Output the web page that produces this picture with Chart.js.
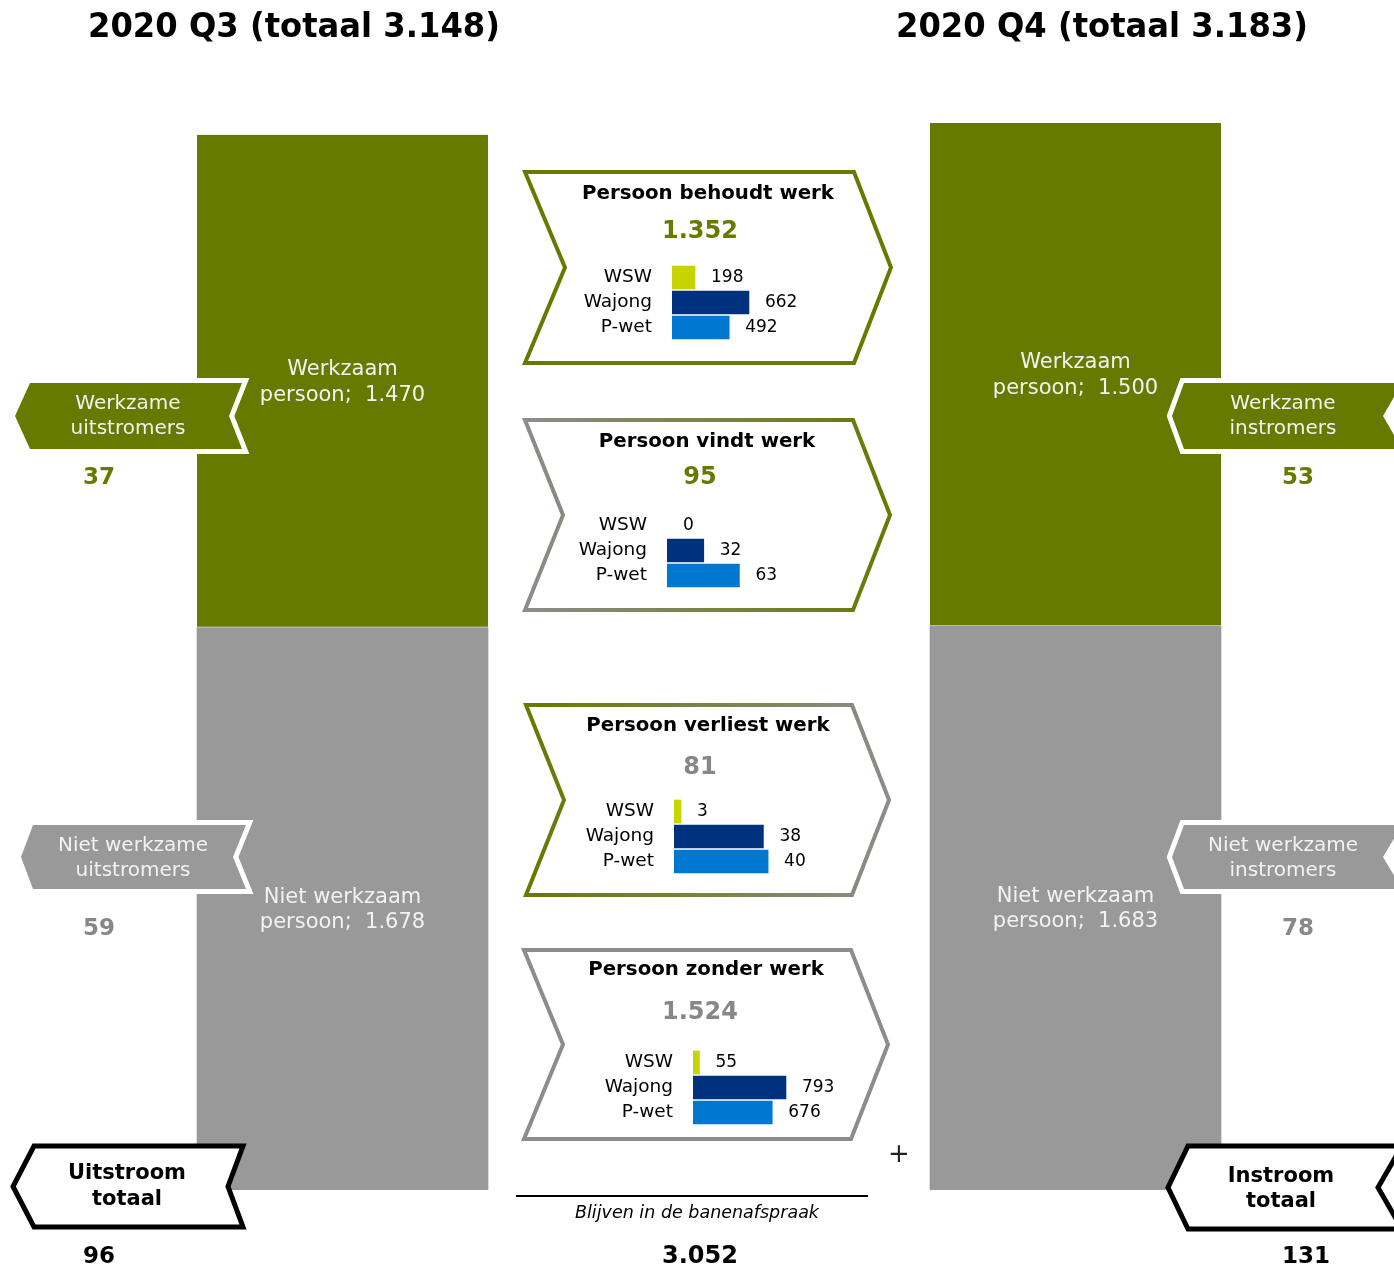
<!DOCTYPE html>
<html>
<head>
<meta charset="utf-8">
<script src="https://cdn.jsdelivr.net/npm/chart.js@4"></script>
<title>Banenafspraak 2020 Q3 - 2020 Q4</title>
<style>
	body { margin: 0; background: #ffffff; }
	#wrap { position: relative; width: 1394px; height: 1267px; overflow: hidden; }
	#wrap canvas { position: absolute; }
</style>
</head>
<body>
<div id="wrap">
	<canvas id="main" width="1394" height="1267" style="left:0;top:0"></canvas>
	<canvas id="mini0" width="280" height="75" style="left:552px;top:265px"></canvas>
	<canvas id="mini1" width="280" height="75" style="left:547px;top:513px"></canvas>
	<canvas id="mini2" width="280" height="75" style="left:554px;top:799px"></canvas>
	<canvas id="mini3" width="280" height="75" style="left:573px;top:1050px"></canvas>
</div>
<script>
// kwartalen (middelste kolom = stromen)
var categories = ['2020 Q3', 'Stromen', '2020 Q4'];
var werkzaam = [1470, null, 1500];
var nietWerkzaam = [1678, null, 1683];
var totals = [3148, 3183];

// stromen tussen de kwartalen
var flowTitles = ['Persoon behoudt werk', 'Persoon vindt werk', 'Persoon verliest werk', 'Persoon zonder werk'];
var flowTotals = [1352, 95, 81, 1524];
var regelingen = ['WSW', 'Wajong', 'P-wet'];
var flowWsw = [198, 0, 3, 55];
var flowWajong = [662, 32, 38, 793];
var flowPwet = [492, 63, 40, 676];

// uitstroom / instroom: werkzaam, niet werkzaam, totaal
var uitstroom = [37, 59, 96];
var instroom = [53, 78, 131];
var blijven = 3052;

var GREEN = '#677a00';
var GRAY = '#999999';
var GRAY_TXT = '#878787';
var LIGHT = '#f2f2f2';
var F = '"DejaVu Sans", Verdana, sans-serif';
var miniColors = ['#c8d400', '#00317f', '#0077d0'];
var miniMax = [860, 87, 42.5, 853];

function nl(n) {
	return String(n).replace(/\B(?=(\d{3})+(?!\d))/g, '.');
}

function txt(ctx, s, x, y, font, color, align, maxW) {
	ctx.font = font;
	ctx.fillStyle = color;
	ctx.textAlign = align || 'center';
	ctx.textBaseline = 'middle';
	if (maxW) ctx.fillText(s, x, y, maxW);
	else ctx.fillText(s, x, y);
}

// pijl naar links met inkeping rechts
function leftArrow(ctx, tip, corner, right, notch, top, bot) {
	var mid = (top + bot) / 2;
	ctx.beginPath();
	ctx.moveTo(corner, top);
	ctx.lineTo(right, top);
	ctx.lineTo(notch, mid);
	ctx.lineTo(right, bot);
	ctx.lineTo(corner, bot);
	ctx.lineTo(tip, mid);
	ctx.closePath();
}

// pijl naar rechts met inkeping links
function flowBox(ctx, b) {
	var mid = (b.top + b.bot) / 2;
	ctx.beginPath();
	ctx.moveTo(b.left, b.top);
	ctx.lineTo(b.right, b.top);
	ctx.lineTo(b.tip, mid);
	ctx.lineTo(b.right, b.bot);
	ctx.lineTo(b.left, b.bot);
	ctx.lineTo(b.notch, mid);
	ctx.closePath();
}

var boxes = [
	{left: 525, right: 854, tip: 891, notch: 565, top: 172, bot: 363, from: GREEN, to: GREEN, hx: 708, hy: 194, ny: 232, nc: GREEN},
	{left: 525, right: 853, tip: 890, notch: 563, top: 420, bot: 610, from: '#8c8c8c', to: GREEN, hx: 707, hy: 442, ny: 478, nc: GREEN},
	{left: 526, right: 852, tip: 889, notch: 564, top: 705, bot: 895, from: GREEN, to: '#8c8c8c', hx: 708, hy: 726, ny: 768, nc: GRAY_TXT},
	{left: 524, right: 851, tip: 888, notch: 563, top: 950, bot: 1139, from: '#8c8c8c', to: '#8c8c8c', hx: 706, hy: 970, ny: 1013, nc: GRAY_TXT}
];

var decor = {
	id: 'decor',
	afterDatasetsDraw: function (chart) {
		var ctx = chart.ctx;
		var i;
		ctx.save();

		// titels
		txt(ctx, categories[0] + ' (totaal ' + nl(totals[0]) + ')', 294, 28, 'bold 34px ' + F, '#000', 'center', 412);
		txt(ctx, categories[2] + ' (totaal ' + nl(totals[1]) + ')', 1102, 28, 'bold 34px ' + F, '#000', 'center', 412);

		// labels in de staven
		var gray = chart.getDatasetMeta(0).data;
		var green = chart.getDatasetMeta(1).data;
		[0, 2].forEach(function (j) {
			var g = green[j], n = gray[j];
			var gy = (g.y + g.base) / 2, ny = (n.y + n.base) / 2;
			txt(ctx, 'Werkzaam', g.x, gy - 12, '21px ' + F, LIGHT);
			txt(ctx, 'persoon;  ' + nl(werkzaam[j]), g.x, gy + 14, '21px ' + F, LIGHT);
			txt(ctx, 'Niet werkzaam', n.x, ny - 11, '21px ' + F, LIGHT);
			txt(ctx, 'persoon;  ' + nl(nietWerkzaam[j]), n.x, ny + 14, '21px ' + F, LIGHT);
		});

		// uitstromers links
		ctx.lineJoin = 'miter';
		leftArrow(ctx, 15, 30, 242, 229, 383, 449);
		ctx.strokeStyle = '#fff'; ctx.lineWidth = 10; ctx.stroke();
		ctx.fillStyle = GREEN; ctx.fill();
		txt(ctx, 'Werkzame', 128, 404, '20px ' + F, LIGHT);
		txt(ctx, 'uitstromers', 128, 429, '20px ' + F, LIGHT);
		txt(ctx, nl(uitstroom[0]), 99, 478, 'bold 23px ' + F, GREEN);

		leftArrow(ctx, 21, 33, 246, 233, 825, 889);
		ctx.strokeStyle = '#fff'; ctx.lineWidth = 10; ctx.stroke();
		ctx.fillStyle = GRAY; ctx.fill();
		txt(ctx, 'Niet werkzame', 133, 846, '20px ' + F, LIGHT);
		txt(ctx, 'uitstromers', 133, 871, '20px ' + F, LIGHT);
		txt(ctx, nl(uitstroom[1]), 99, 929, 'bold 23px ' + F, GRAY_TXT);

		leftArrow(ctx, 13, 34, 243, 228, 1146, 1227);
		ctx.fillStyle = '#fff'; ctx.fill();
		ctx.strokeStyle = '#000'; ctx.lineWidth = 5; ctx.stroke();
		txt(ctx, 'Uitstroom', 127, 1174, 'bold 21px ' + F, '#000');
		txt(ctx, 'totaal', 127, 1200, 'bold 21px ' + F, '#000');
		txt(ctx, nl(uitstroom[2]), 99, 1257, 'bold 23px ' + F, '#000');

		// instromers rechts
		leftArrow(ctx, 1172, 1184, 1402, 1383, 383, 449);
		ctx.strokeStyle = '#fff'; ctx.lineWidth = 10; ctx.stroke();
		ctx.fillStyle = GREEN; ctx.fill();
		txt(ctx, 'Werkzame', 1283, 404, '20px ' + F, LIGHT);
		txt(ctx, 'instromers', 1283, 429, '20px ' + F, LIGHT);
		txt(ctx, nl(instroom[0]), 1298, 478, 'bold 23px ' + F, GREEN);

		leftArrow(ctx, 1172, 1184, 1402, 1383, 825, 889);
		ctx.strokeStyle = '#fff'; ctx.lineWidth = 10; ctx.stroke();
		ctx.fillStyle = GRAY; ctx.fill();
		txt(ctx, 'Niet werkzame', 1283, 846, '20px ' + F, LIGHT);
		txt(ctx, 'instromers', 1283, 871, '20px ' + F, LIGHT);
		txt(ctx, nl(instroom[1]), 1298, 929, 'bold 23px ' + F, GRAY_TXT);

		leftArrow(ctx, 1168, 1188, 1402, 1378, 1146, 1229);
		ctx.fillStyle = '#fff'; ctx.fill();
		ctx.strokeStyle = '#000'; ctx.lineWidth = 5; ctx.stroke();
		txt(ctx, 'Instroom', 1281, 1177, 'bold 21px ' + F, '#000');
		txt(ctx, 'totaal', 1281, 1202, 'bold 21px ' + F, '#000');
		txt(ctx, nl(instroom[2]), 1306, 1257, 'bold 23px ' + F, '#000');

		// stromen
		for (i = 0; i < boxes.length; i++) {
			var b = boxes[i];
			var grad = ctx.createLinearGradient(b.left, 0, b.tip, 0);
			grad.addColorStop(0, b.from);
			grad.addColorStop(1, b.to);
			flowBox(ctx, b);
			ctx.fillStyle = '#fff'; ctx.fill();
			ctx.strokeStyle = grad; ctx.lineWidth = 4; ctx.stroke();
			txt(ctx, flowTitles[i], b.hx, b.hy, 'bold 19.8px ' + F, '#000');
			txt(ctx, nl(flowTotals[i]), 700, b.ny, 'bold 24px ' + F, b.nc);
		}

		// optelling onderaan
		txt(ctx, '+', 899, 1155, '26px ' + F, '#222');
		ctx.beginPath();
		ctx.moveTo(516, 1196); ctx.lineTo(868, 1196);
		ctx.strokeStyle = '#000'; ctx.lineWidth = 2; ctx.stroke();
		txt(ctx, 'Blijven in de banenafspraak', 697, 1213, 'italic 17.5px ' + F, '#000');
		txt(ctx, nl(blijven), 700, 1257, 'bold 24px ' + F, '#000');

		ctx.restore();
	}
};

new Chart(document.getElementById('main'), {
	type: 'bar',
	data: {
		labels: categories,
		datasets: [{
			label: 'Niet werkzaam persoon',
			data: nietWerkzaam,
			backgroundColor: GRAY,
			barThickness: 291
		}, {
			label: 'Werkzaam persoon',
			data: werkzaam,
			backgroundColor: GREEN,
			borderColor: '#ffffff',
			borderWidth: {top: 0, right: 0, bottom: 1, left: 0},
			borderSkipped: false,
			barThickness: 291
		}]
	},
	options: {
		responsive: false,
		animation: false,
		layout: {padding: {left: 159.25, right: 135.25, top: 123, bottom: 77}},
		scales: {
			x: {stacked: true, display: false},
			y: {stacked: true, display: false, min: 0, max: Math.max.apply(null, totals)}
		},
		plugins: {legend: {display: false}, tooltip: {enabled: false}}
	},
	plugins: [decor]
});

var miniLabels = {
	id: 'miniLabels',
	afterDatasetsDraw: function (chart) {
		var ctx = chart.ctx;
		var meta = chart.getDatasetMeta(0);
		var vals = chart.data.datasets[0].data;
		ctx.save();
		meta.data.forEach(function (bar, k) {
			txt(ctx, regelingen[k], chart.chartArea.left - 20, bar.y, '18.5px ' + F, '#000', 'right');
			txt(ctx, nl(vals[k]), bar.x + 16, bar.y, '17px ' + F, '#000', 'left');
		});
		ctx.restore();
	}
};

for (var m = 0; m < 4; m++) {
	new Chart(document.getElementById('mini' + m), {
		type: 'bar',
		data: {
			labels: regelingen,
			datasets: [{
				data: [flowWsw[m], flowWajong[m], flowPwet[m]],
				backgroundColor: function (c) {
					return c.raw === 0 ? 'rgba(0,0,0,0)' : miniColors[c.dataIndex];
				},
				barThickness: 23
			}]
		},
		options: {
			indexAxis: 'y',
			responsive: false,
			animation: false,
			layout: {padding: {left: 120, right: 60, top: 0, bottom: 0}},
			scales: {
				x: {display: false, min: 0, max: miniMax[m]},
				y: {display: false}
			},
			plugins: {legend: {display: false}, tooltip: {enabled: false}}
		},
		plugins: [miniLabels]
	});
}
</script>
</body>
</html>
